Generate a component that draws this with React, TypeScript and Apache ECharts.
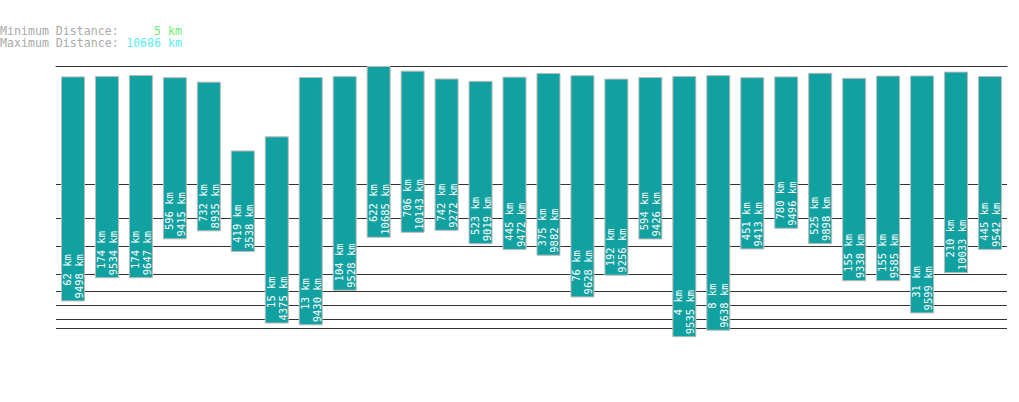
import React, { useEffect, useRef } from "react";
import * as echarts from "echarts";

const minKm = [62, 174, 174, 596, 732, 419, 15, 13, 104, 622, 706, 742, 523, 445, 375, 76, 192, 594, 4, 8, 451, 780, 525, 155, 155, 31, 210, 445];
const maxKm = [9498, 9534, 9647, 9415, 8935, 3538, 4375, 9430, 9528, 10685, 10143, 9272, 9019, 9472, 9882, 9628, 9256, 9426, 9535, 9638, 9413, 9496, 9898, 9338, 9585, 9599, 10033, 9542];
const categories = minKm.map((_, i) => String(i + 1));
const gridTicks = [10, 20, 50, 100, 200, 500, 1000, 2000];
const summaryMin = 5;
const summaryMax = 10686;
const EXP = 0.3;

const pw = (v: number) => Math.pow(v, EXP);

export default function App() {
  const ref = useRef<HTMLDivElement>(null);
  useEffect(() => {
    document.body.style.margin = "0";
    const chart = echarts.init(ref.current!, undefined, { renderer: "svg" });
    const mono = "DejaVu Sans Mono";
    const charW = 0.602 * 10.5;
    const option: any = {
      animation: false,
      grid: { left: 56, right: 12, top: 66, bottom: 36.75 },
      xAxis: {
        type: "category",
        position: "top",
        data: categories,
        axisLine: { show: true, onZero: false, lineStyle: { color: "#333", width: 1 } },
        axisTick: { show: false },
        axisLabel: { show: false },
        splitLine: { show: false },
        z: 0,
      },
      yAxis: {
        type: "value",
        min: 0,
        max: pw(summaryMax),
        axisLine: { show: false },
        axisTick: { show: false },
        axisLabel: { show: false },
        splitLine: { show: false },
      },
      series: [
        {
          type: "bar",
          stack: "r",
          barWidth: 24,
          silent: true,
          z: 1,
          itemStyle: { color: "transparent" },
          data: minKm.map((v) => pw(v)),
          markLine: {
            silent: true,
            z: 1,
            symbol: "none",
            label: { show: false },
            lineStyle: { color: "#333", width: 1, type: "solid" },
            data: gridTicks.map((t) => ({ yAxis: pw(t) })),
          },
        },
        {
          type: "bar",
          stack: "r",
          barWidth: 24,
          z: 3,
          itemStyle: { color: "#11a1a1", borderColor: "#bbbbbb", borderWidth: 1 },
          data: maxKm.map((v, i) => pw(v) - pw(minKm[i])),
          label: {
            show: true,
            position: "insideBottom",
            rotate: 90,
            align: "left",
            verticalAlign: "middle",
            distance: 3,
            color: "#ffffff",
            fontFamily: mono,
            fontSize: 10.5,
            lineHeight: 12,
            formatter: (p: any) => {
              const a = `${minKm[p.dataIndex]} km`;
              const b = `${maxKm[p.dataIndex]} km`;
              const s = b.length >= 8 ? "w8" : "w7";
              return `{${s}|${a}}\n{${s}|${b}}`;
            },
            rich: {
              w7: { width: charW * 7, align: "right", fontFamily: mono, fontSize: 10.5, color: "#fff", lineHeight: 12 },
              w8: { width: charW * 8, align: "right", fontFamily: mono, fontSize: 10.5, color: "#fff", lineHeight: 12 },
            },
          },
        },
      ],
      graphic: [
        {
          type: "text",
          left: 0,
          top: 25,
          style: { text: "Minimum Distance:", fill: "#aaaaaa", font: `11.6px "${mono}"` },
        },
        {
          type: "text",
          left: 0,
          top: 37,
          style: { text: "Maximum Distance:", fill: "#aaaaaa", font: `11.6px "${mono}"` },
        },
        {
          type: "text",
          right: 1019 - 182,
          top: 25,
          style: { text: `${summaryMin} km`, fill: "#70ee70", font: `11.6px "${mono}"` },
        },
        {
          type: "text",
          right: 1019 - 182,
          top: 37,
          style: { text: `${summaryMax} km`, fill: "#60eeee", font: `11.6px "${mono}"` },
        },
      ],
    };
    chart.setOption(option);
    return () => chart.dispose();
  }, []);
  return <div ref={ref} style={{ width: 1019, height: 402 }} />;
}
